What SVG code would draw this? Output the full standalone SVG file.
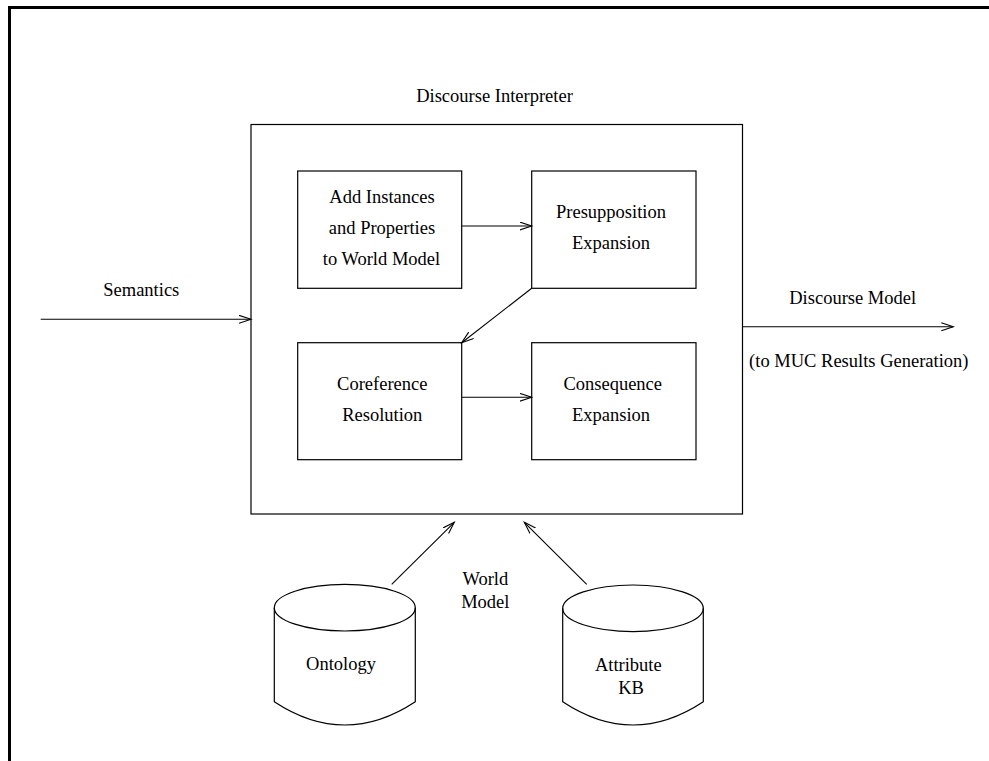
<svg xmlns="http://www.w3.org/2000/svg" width="989" height="761" viewBox="0 0 989 761">
<style>
.box{fill:none;stroke:#000;stroke-width:1.2}
.ln{fill:none;stroke:#000;stroke-width:1.1;marker-end:url(#ah)}
text{font-family:"Liberation Serif","Times New Roman",serif;font-size:18.5px;fill:#000;text-anchor:middle}
</style>
<defs>
<marker id="ah" markerWidth="14" markerHeight="10" refX="12" refY="4.5" orient="auto" markerUnits="userSpaceOnUse">
<path d="M0,0.5 L12,4.5 L0,8.5" fill="none" stroke="#000" stroke-width="1.1"/>
</marker>
</defs>
<rect width="989" height="761" fill="#fff"/>
<path d="M9.5,761 V7.5 H989" fill="none" stroke="#000" stroke-width="3"/>
<g id="discourse-interpreter">
<rect class="box" x="251" y="124.5" width="491.5" height="389.5"/>
<text x="494.5" y="101.7">Discourse Interpreter</text>
</g>
<g id="add-instances">
<rect class="box" x="297.7" y="171" width="164" height="117.3"/>
<text x="382" y="203.3">Add Instances</text>
<text x="382" y="234.3">and Properties</text>
<text x="381.5" y="265.3">to World Model</text>
</g>
<g id="presupposition">
<rect class="box" x="531.7" y="171" width="164.3" height="117.3"/>
<text x="611" y="218.3">Presupposition</text>
<text x="611" y="249.3">Expansion</text>
</g>
<g id="coreference">
<rect class="box" x="297.7" y="342.7" width="164" height="117"/>
<text x="382.3" y="390">Coreference</text>
<text x="382.3" y="420.7">Resolution</text>
</g>
<g id="consequence">
<rect class="box" x="531.7" y="342.7" width="164.3" height="117"/>
<text x="612.7" y="390">Consequence</text>
<text x="611" y="420.7">Expansion</text>
</g>
<g id="ontology">
<ellipse class="box" cx="344.8" cy="607.7" rx="70.5" ry="23.3"/>
<path class="box" d="M274.3,607.7 V701.7 Q344.8,748.3 415.3,701.7 V607.7"/>
<text x="341" y="670">Ontology</text>
</g>
<g id="attribute-kb">
<ellipse class="box" cx="633" cy="608.3" rx="70.3" ry="23.3"/>
<path class="box" d="M562.7,608.3 V701.7 Q633,748.3 703.3,701.7 V608.3"/>
<text x="628.3" y="671">Attribute</text>
<text x="631" y="694">KB</text>
</g>
<g id="labels">
<text x="141.3" y="296">Semantics</text>
<text x="852.7" y="304.3">Discourse Model</text>
<text x="858.8" y="366.7">(to MUC Results Generation)</text>
<text x="485.3" y="585">World</text>
<text x="485.3" y="607.7">Model</text>
</g>
<g id="connectors">
<line class="ln" x1="40.7" y1="319.3" x2="251" y2="319.3"/>
<line class="ln" x1="742.7" y1="326.7" x2="953.3" y2="326.7"/>
<line class="ln" x1="461.7" y1="226" x2="531.7" y2="226"/>
<line class="ln" x1="531.7" y1="288.3" x2="461.7" y2="342.7"/>
<line class="ln" x1="461.7" y1="397.3" x2="531.7" y2="397.3"/>
<line class="ln" x1="391.7" y1="584.3" x2="454.3" y2="522.3"/>
<line class="ln" x1="586.7" y1="584.3" x2="524.3" y2="522.3"/>
</g>
</svg>
